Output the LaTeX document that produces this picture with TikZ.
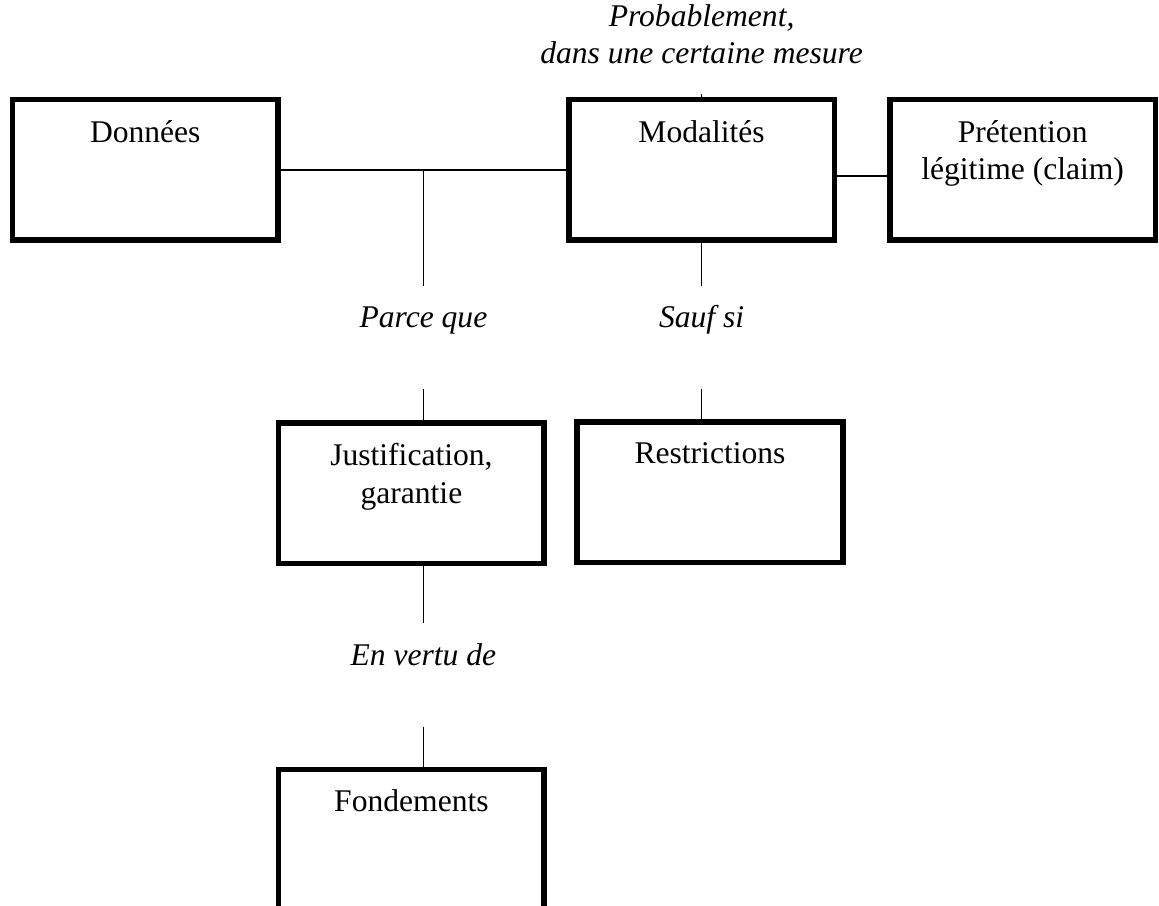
\documentclass[tikz,border=0pt]{standalone}
\usepackage{fontspec}
\setmainfont{Liberation Serif}
\usetikzlibrary{positioning}
\usetikzlibrary{calc}

\begin{document}
\begin{tikzpicture}[node distance=0.5cm,
                every node/.style = {font=\fontsize{12}{14.2}\selectfont},
                boite/.style = {shape=rectangle, draw, line width=2.1pt, inner sep=0pt,
                                minimum width=100.9pt, minimum height=53.4pt},
                titre/.style = {anchor=north, inner sep=0pt, align=center, yshift=-8.7pt},
                italique/.style = {inner sep=0pt, font=\fontsize{12}{14.2}\selectfont\itshape},
                lien/.style = {italique, text height=15.6pt, text depth=23.2pt},
                trait/.style = {line width=0.65pt}]
            \useasboundingbox (-55.2pt,64.6pt) rectangle ++(440.42pt,-344.28pt);
            \clip (-55.2pt,64.6pt) rectangle ++(440.42pt,-344.28pt);

            \node (b_donnees) [boite, label={[titre]north:{Données}}] {};
            \node (b_modalites) [boite, right = 108.4pt of b_donnees, label={[titre]north:{Modalités}}] {};
            \node (b_pretention) [boite, right = 19pt of b_modalites, label={[titre]north:{Prétention\\ légitime (claim)}}] {};

            \node (l_proba) [italique, align=center, outer ysep=11.6pt, above = 1pt of b_modalites] {Probablement,\\ dans une certaine mesure};

            \coordinate (c_jonction) at ($(b_donnees.east)!0.5!(b_modalites.west)$);
            \node (l_parce) [lien, below = 44.1pt of c_jonction] {Parce que};
            \node (l_sauf) [lien] at (l_parce -| b_modalites) {Sauf si};

            \node (b_justif) [boite, below = 11.8pt of l_parce, xshift=-4.56pt, label={[titre]north:{Justification,\\ garantie}}] {};
            \node (b_restrict) [boite, below = 11.4pt of l_sauf, xshift=3.2pt, label={[titre]north:{Restrictions}}] {};

            \coordinate (c_pied) at (b_justif.south -| l_parce);
            \node (l_vertu) [lien, below = 21.7pt of c_pied] {En vertu de};
            \node (b_fondements) [boite, minimum height=70pt, below = 15.2pt of l_vertu, xshift=-4.56pt, label={[titre]north:{Fondements}}] {};

            \path[trait]
            (b_donnees)      edge (b_modalites)
            ([yshift=-2.3pt]b_modalites.east) edge ([yshift=-2.3pt]b_pretention.west)
            (l_proba)        edge (b_modalites)
            (c_jonction)     edge (l_parce)
            (l_parce)        edge (l_parce |- b_justif.north)
            (b_modalites)    edge (l_sauf)
            (l_sauf)         edge (l_sauf |- b_restrict.north)
            (c_pied)         edge (l_vertu)
            (l_vertu)        edge (l_vertu |- b_fondements.north);
        \end{tikzpicture}
\end{document}
